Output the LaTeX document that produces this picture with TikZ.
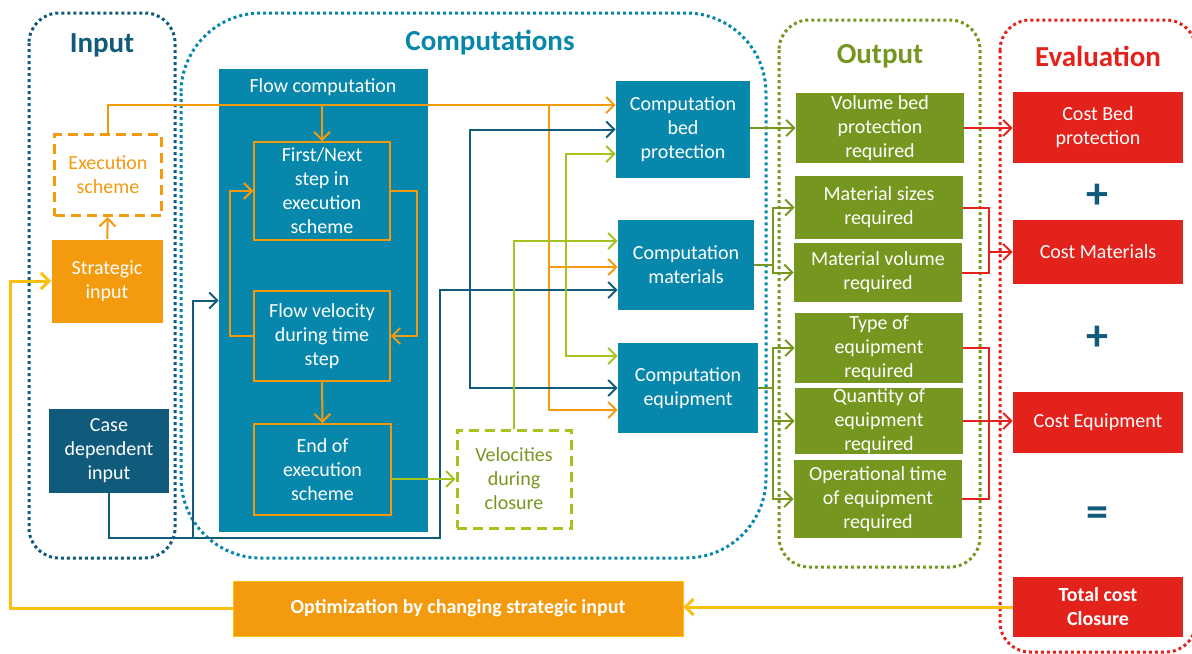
\documentclass[tikz,border=0pt]{standalone}
\usepackage{fontspec}
\setmainfont{Carlito}
\usetikzlibrary{arrows.meta}

\definecolor{cteal}{HTML}{0787AB}
\definecolor{cnavy}{HTML}{105A7C}
\definecolor{corange}{HTML}{F39A0E}
\definecolor{clime}{HTML}{A3C41E}
\definecolor{colive}{HTML}{76971F}
\definecolor{cred}{HTML}{E3221B}
\definecolor{cyellow}{HTML}{FCC00E}

\tikzset{
	>={Straight Barb[length=4pt,width=8pt]},
	grp/.style={line width=1.5pt, dash pattern=on 1.5pt off 1.5pt},
	blk/.style={rectangle, inner sep=0pt, align=center, text=white, font=\fontsize{10}{12}\selectfont},
	comp/.style={blk, fill=cteal},
	stepbox/.style={blk, fill=cteal, draw=corange, line width=0.75pt},
	outbox/.style={blk, fill=colive},
	evalbox/.style={blk, fill=cred},
	title/.style={font=\fontsize{14.5}{16}\selectfont\bfseries},
	sign/.style={text=cnavy, font=\fontsize{22}{24}\selectfont\bfseries},
	wire/.style={line width=1pt},
}

\begin{document}
\begin{tikzpicture}[x=0.5pt, y=-0.5pt]
		%%%%% START %%%%%
		\useasboundingbox (0,0) rectangle (1192,653);
		
		% dotted frames
		\draw[grp, cnavy, rounded corners=15pt] (29,13) rectangle (175,558);
		\draw[grp, cteal, rounded corners=40pt] (181,13) rectangle (766,558);
		\draw[grp, colive, rounded corners=15pt] (779,20) rectangle (980,567);
		\draw[grp, cred, rounded corners=15pt] (1000,20) rectangle (1196,652);
		
		\node[title, text=cnavy] (tInput) at (102,45) {Input};
		\node[title, text=cteal] (tComp) at (490,43) {Computations};
		\node[title, text=colive] (tOut) at (880,56) {Output};
		\node[title, text=cred] (tEval) at (1098,56) {Evaluation};
		
		% input column
		\node[blk, text=corange, draw=corange, line width=1.5pt, dash pattern=on 5pt off 3pt, minimum width=53.5pt, minimum height=40.5pt] (exec) at (108,175) {Execution\\scheme};
		\node[blk, fill=corange, minimum width=55.5pt, minimum height=41.5pt] (strat) at (107,281) {Strategic\\input};
		\node[blk, fill=cnavy, minimum width=60pt, minimum height=42pt] (case) at (109,451) {Case\\dependent\\input};
		
		% flow computation
		\node[comp, minimum width=104.5pt, minimum height=231.5pt] (flow) at (323.5,300.5) {};
		\node[blk] (flowlbl) at (323,87) {Flow computation};
		\node[stepbox, minimum width=68pt, minimum height=49pt] (first) at (322,191) {First/Next\\step in\\execution\\scheme};
		\node[stepbox, minimum width=68pt, minimum height=45pt] (fvel) at (322,336) {Flow velocity\\during time\\step};
		\node[stepbox, minimum width=68.5pt, minimum height=45.5pt] (endx) at (322.5,469.5) {End of\\execution\\scheme};
		\node[blk, text=colive, draw=clime, line width=1.5pt, dash pattern=on 5pt off 3pt, minimum width=57pt, minimum height=49pt] (velo) at (514,479) {Velocities\\during\\closure};
		
		\node[comp, minimum width=67pt, minimum height=48.5pt] (cbed) at (683,129.5) {Computation\\bed\\protection};
		\node[comp, minimum width=68pt, minimum height=45pt] (cmat) at (686,265) {Computation\\materials};
		\node[comp, minimum width=70pt, minimum height=45pt] (cequ) at (688,388) {Computation\\equipment};
		
		% output column
		\node[outbox, minimum width=84pt, minimum height=35pt] (obed) at (880,128) {Volume bed\\protection\\required};
		\node[outbox, minimum width=84pt, minimum height=31.5pt] (osize) at (879,207.5) {Material sizes\\required};
		\node[outbox, minimum width=84pt, minimum height=29.5pt] (ovol) at (878,272.5) {Material volume\\required};
		\node[outbox, minimum width=84pt, minimum height=35pt] (otype) at (879,348) {Type of\\equipment\\required};
		\node[outbox, minimum width=84pt, minimum height=33pt] (oqty) at (879,421) {Quantity of\\equipment\\required};
		\node[outbox, minimum width=84pt, minimum height=39pt] (otime) at (878,499) {Operational time\\of equipment\\required};
		
		% evaluation column
		\node[evalbox, minimum width=85pt, minimum height=35.5pt] (ebed) at (1098,127.5) {Cost Bed\\protection};
		\node[evalbox, minimum width=85pt, minimum height=32pt] (emat) at (1098,252) {Cost Materials};
		\node[evalbox, minimum width=85pt, minimum height=30.5pt] (eequ) at (1098,422.5) {Cost Equipment};
		\node[evalbox, minimum width=85pt, minimum height=30pt, font=\fontsize{10}{12}\selectfont\bfseries] (etot) at (1098,607) {Total cost\\Closure};
		\node[sign] (plusA) at (1097,196) {+};
		\node[sign] (plusB) at (1097,338) {+};
		\node[sign] (eqs) at (1097,517) {=};
		
		\node[blk, fill=corange, draw=cyellow, minimum width=225pt, minimum height=27.5pt, font=\fontsize{10}{12}\selectfont\bfseries] (opt) at (458,608.5) {Optimization by changing strategic input};
		
		% lanes
		\coordinate (oTop) at (549,105);
		\coordinate (oMat) at (549,267);
		\coordinate (oLow) at (549,410);
		\coordinate (nBus) at (470,290);
		\coordinate (nLow) at (193,538);
		\coordinate (nMid) at (440,538);
		\coordinate (gBus) at (566,154);
		\coordinate (gLow) at (566,356);
		\coordinate (gMat) at (514,241);
		\coordinate (oBar) at (773,0);
		\coordinate (rBar) at (989,0);
		\coordinate (yBar) at (10,0);
		
		% orange
		\draw[wire, corange, ->] (exec.north) |- (cbed.west |- oTop);
		\draw[wire, corange, ->] (first.north |- oTop) -- (first.north);
		\draw[wire, corange, ->] (oTop) -- (oLow) -- (cequ.west |- oLow);
		\draw[wire, corange, ->] (oMat) -- (cmat.west |- oMat);
		\draw[wire, corange, ->] (first.east) -- ++(13pt,0) |- (fvel.east);
		\draw[wire, corange, ->] (fvel.west) -- ++(-11.5pt,0) |- (first.west);
		\draw[wire, corange, ->] (fvel) -- (endx);
		\draw[wire, corange, ->] (strat) -- (exec);
		
		% navy
		\draw[wire, cnavy, <->] (cbed.west) -| (nBus) |- (cequ.west);
		\draw[wire, cnavy, ->] (case.south) |- (nMid) |- (cmat.west |- nBus);
		\draw[wire, cnavy, ->] (nLow) |- (flow.west);
		
		% lime
		\draw[wire, clime, ->] (endx.east |- velo.west) -- (velo.west);
		\draw[wire, clime, ->] (velo.north) -- (gMat) -- (cmat.west |- gMat);
		\draw[wire, clime, <->] (cbed.west |- gBus) -- (gBus) -- (gLow) -- (cequ.west |- gLow);
		
		% olive
		\draw[wire, colive, ->] (cbed.east |- obed.west) -- (obed.west);
		\draw[wire, colive, ->] (cmat.east) -| (oBar |- osize.west) -- (osize.west);
		\draw[wire, colive, ->] (cmat.east) -| (oBar |- ovol.west) -- (ovol.west);
		\draw[wire, colive, ->] (cequ.east) -| (oBar |- otype.west) -- (otype.west);
		\draw[wire, colive, ->] (cequ.east) -| (oBar |- oqty.west) -- (oqty.west);
		\draw[wire, colive, ->] (cequ.east) -| (oBar |- otime.west) -- (otime.west);
		
		% red
		\draw[wire, cred, ->] (obed.east) -- (obed.east -| ebed.west);
		\draw[wire, cred] (osize.east) -| (rBar |- ovol.east) -- (ovol.east);
		\draw[wire, cred, ->] (rBar |- emat.west) -- (emat.west);
		\draw[wire, cred] (otype.east) -| (rBar |- otime.east) -- (otime.east);
		\draw[wire, cred, ->] (oqty.east) -- (oqty.east -| eequ.west);
		
		% feedback
		\draw[cyellow, line width=1.5pt, ->] (etot.west) -- (etot.west -| opt.east);
		\draw[cyellow, line width=1.5pt, ->] (opt.west) -| (yBar |- strat.west) -- (strat.west);
		%%%%% END %%%%%
\end{tikzpicture}
\end{document}
